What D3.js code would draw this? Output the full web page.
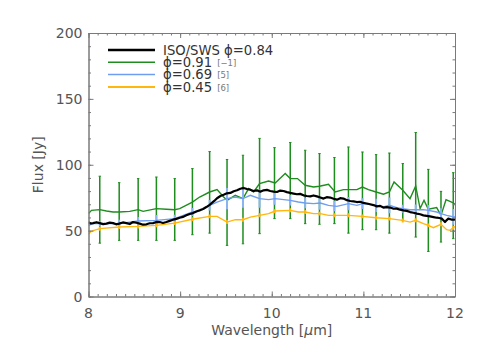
<!DOCTYPE html>
<html><head><meta charset="utf-8">
<script src="https://cdn.jsdelivr.net/npm/d3@7"></script>
<style>body{margin:0;background:#fff}svg{display:block}text{font-family:"DejaVu Sans",sans-serif}</style>
</head><body><svg id="c" width="481" height="354"></svg>
<script>
// ---- data ----
const xTicks=[8,9,10,11,12];
const yTicks=[0,50,100,150,200];
const legendLabels=["ISO/SWS \u03D5=0.84","\u03D5=0.91","\u03D5=0.69","\u03D5=0.45"];
const legendNotes=["","[\u22121]","[5]","[6]"];
// ISO/SWS phi=0.84
const isoLam=[8.0,8.025,8.051,8.087,8.123,8.16,8.196,8.232,8.269,8.302,8.335,8.375,8.414,8.45,8.487,8.523,8.559,8.595,8.632,8.668,8.705,8.741,8.777,8.813,8.85,8.886,8.923,8.959,8.995,9.03,9.068,9.105,9.141,9.177,9.213,9.25,9.286,9.322,9.359,9.38,9.403,9.44,9.475,9.51,9.548,9.585,9.621,9.657,9.693,9.73,9.766,9.8,9.839,9.875,9.911,9.948,9.984,10.02,10.057,10.093,10.129,10.165,10.202,10.238,10.275,10.31,10.347,10.383,10.42,10.456,10.493,10.53,10.565,10.6,10.638,10.675,10.711,10.747,10.783,10.82,10.856,10.893,10.929,10.965,11.001,11.037,11.074,11.11,11.147,11.183,11.218,11.255,11.292,11.33,11.365,11.4,11.437,11.473,11.51,11.547,11.583,11.62,11.655,11.69,11.728,11.765,11.8,11.83,11.855,11.873,11.891,11.91,11.927,11.96,11.989,12.0];
const isoFlux=[56.3,55.4,55.7,56.4,55.7,54.9,55.3,56.1,55.7,54.8,55.3,56.2,55.7,55.0,56.5,56.0,55.3,54.5,54.8,55.6,55.7,56.6,56.5,55.8,56.5,57.4,58.3,58.9,59.8,60.4,61.6,62.6,63.3,64.5,65.4,66.4,67.9,69.6,71.8,73.0,74.6,76.3,77.2,78.3,78.6,79.9,80.6,81.8,82.4,81.6,81.1,80.1,80.6,79.5,80.6,80.9,80.1,79.6,79.3,80.4,80.1,79.2,78.6,78.1,77.6,77.9,76.8,76.3,76.0,76.7,76.0,75.1,74.3,75.4,75.1,74.2,73.5,74.6,74.3,73.1,72.5,72.2,71.7,71.9,71.0,70.6,70.0,69.4,68.4,68.8,67.5,67.9,67.5,66.6,66.7,65.9,65.4,65.0,64.1,63.6,62.9,62.4,61.6,61.2,60.8,60.3,59.8,59.6,59.1,57.8,56.5,58.0,59.1,58.4,58.3,58.5];
// phi=0.91 (green)
const grLam=[8.0,8.033,8.123,8.196,8.269,8.335,8.45,8.542,8.596,8.741,8.85,8.941,8.995,9.134,9.213,9.322,9.403,9.475,9.512,9.602,9.686,9.747,9.802,9.867,9.965,10.038,10.147,10.202,10.281,10.365,10.456,10.521,10.619,10.692,10.783,10.929,10.99,11.055,11.139,11.219,11.284,11.335,11.43,11.509,11.571,11.619,11.662,11.709,11.8,11.847,11.902,11.981,12.0];
const grFlux=[63.0,65.4,65.9,64.9,64.1,64.1,64.6,65.9,64.6,66.7,66.2,65.9,66.7,71.7,75.5,79.3,81.1,75.5,73.0,76.8,74.3,81.9,79.3,85.7,87.7,86.2,93.3,89.5,89.5,84.4,83.1,83.7,85.2,79.3,81.1,81.1,83.1,81.1,79.3,77.6,79.3,86.9,80.6,74.3,83.9,66.7,73.0,66.2,67.5,61.6,73.5,71.0,70.0];
// phi=0.69 (blue)
const blLam=[8.0,8.05,8.196,8.335,8.542,8.741,8.941,9.134,9.213,9.322,9.403,9.512,9.602,9.686,9.766,9.867,9.965,10.038,10.202,10.29,10.365,10.456,10.53,10.619,10.711,10.837,10.929,10.99,11.135,11.218,11.284,11.365,11.426,11.51,11.571,11.655,11.709,11.8,11.847,11.909,11.989,12.0];
const blFlux=[54.0,55.3,55.3,55.3,57.3,57.8,59.1,64.1,64.9,69.2,71.7,74.3,75.5,74.3,76.8,74.3,73.5,74.3,73.0,71.7,71.0,70.5,71.0,69.2,68.4,70.5,69.2,70.5,69.2,67.9,69.2,67.5,66.7,65.9,65.9,65.9,65.4,64.1,62.9,61.6,60.3,60.5];
// phi=0.45 (yellow)
const ylLam=[8.0,8.033,8.123,8.335,8.542,8.741,8.941,9.134,9.322,9.403,9.512,9.602,9.686,9.766,9.867,9.965,10.038,10.202,10.29,10.365,10.456,10.53,10.619,10.74,10.837,10.99,11.135,11.284,11.426,11.51,11.571,11.655,11.709,11.764,11.847,11.909,11.945,11.989,12.0];
const ylFlux=[47.5,49.7,51.5,52.7,53.2,54.0,55.7,58.6,60.8,60.8,56.5,58.3,58.3,60.3,61.6,62.9,64.9,65.4,64.1,64.1,62.9,62.9,61.6,61.6,61.6,60.8,59.8,59.1,57.8,56.5,57.8,55.3,54.0,52.2,54.8,50.7,50.2,52.7,53.0];
// error bars
const errLam=[8.123,8.335,8.542,8.741,8.941,9.134,9.322,9.512,9.686,9.867,10.03,10.202,10.365,10.521,10.684,10.837,10.99,11.139,11.284,11.43,11.571,11.709,11.847,11.981];
const grLo=[40.5,42.6,42.6,42.6,42.6,46.9,48.1,38.8,40.0,47.7,59.1,59.1,55.3,54.8,55.3,48.1,50.7,50.7,48.1,57.8,45.1,34.2,41.3,43.9];
const grHi=[91.3,86.4,89.5,90.7,89.5,97.1,110.0,104.0,107.2,120.0,113.0,116.9,111.0,108.5,105.5,113.5,109.7,107.7,108.9,100.9,124.5,96.5,79.8,94.0];
const blErr=[2,3,3,4,3,3,4,8,7,7,4.5,4,4,5,4,5,4,5,6,3,4,4,4,6];
const ylErr=[1.5,1.5,1.5,1.5,1.5,1.5,1.5,1.5,1.5,1.5,1.5,1.5,1.5,1.5,1.5,1.5,1.5,1.5,1.5,1.5,1.5,1.5,1.5,1.5];

// ---- chart ----
const L=88.5,R=455,T=33,B=296.5;
const svg=d3.select("#c");
const x=d3.scaleLinear().domain([8,12]).range([L,R]);
const y=d3.scaleLinear().domain([0,200]).range([B,T]);
const axisCol="#7a7a7a", txtCol="#555";
const cGreen="#1e8c1e", cBlue="#6f9ef0", cBlueErr="#8cb4f4", cYel="#ffb70f";

svg.append("clipPath").attr("id","pc").append("rect").attr("x",L).attr("y",T).attr("width",R-L).attr("height",B-T);
const g=svg.append("g").attr("clip-path","url(#pc)");
const line=(lam,fl)=>d3.line().x((d,i)=>x(lam[i])).y(d=>y(d))(fl);
const interp=(lam,fl,v)=>{const i=Math.max(1,d3.bisectLeft(lam,v));const t=(v-lam[i-1])/(lam[i]-lam[i-1]);return fl[i-1]+t*(fl[i]-fl[i-1]);};

// green error bars
errLam.forEach((l,i)=>{
  g.append("line").attr("x1",x(l)).attr("x2",x(l)).attr("y1",y(grLo[i])).attr("y2",y(grHi[i])).attr("stroke",cGreen).attr("stroke-width",1.5);
  [grLo[i],grHi[i]].forEach(v=>g.append("line").attr("x1",x(l)-1.2).attr("x2",x(l)+1.2).attr("y1",y(v)).attr("y2",y(v)).attr("stroke",cGreen).attr("stroke-width",1));
});
g.append("path").attr("d",line(grLam,grFlux)).attr("fill","none").attr("stroke",cGreen).attr("stroke-width",1.4);
// blue
errLam.forEach((l,i)=>{const c=interp(blLam,blFlux,l);
  g.append("line").attr("x1",x(l)).attr("x2",x(l)).attr("y1",y(c-blErr[i])).attr("y2",y(c+blErr[i])).attr("stroke",cBlueErr).attr("stroke-width",2);});
g.append("path").attr("d",line(blLam,blFlux)).attr("fill","none").attr("stroke",cBlue).attr("stroke-width",1.4);
// yellow
errLam.forEach((l,i)=>{const c=interp(ylLam,ylFlux,l);
  g.append("line").attr("x1",x(l)).attr("x2",x(l)).attr("y1",y(c-ylErr[i])).attr("y2",y(c+ylErr[i])).attr("stroke",cYel).attr("stroke-width",2);});
g.append("path").attr("d",line(ylLam,ylFlux)).attr("fill","none").attr("stroke",cYel).attr("stroke-width",1.4);
// ISO
g.append("path").attr("d",line(isoLam,isoFlux)).attr("fill","none").attr("stroke","#000").attr("stroke-width",2.2).attr("stroke-linejoin","round");

// axes (box with inward ticks)
const minorX=d3.range(8,12.0001,0.1).map(v=>+v.toFixed(2));
const minorY=d3.range(0,200.001,10);
function styleAx(sel){sel.selectAll("path").attr("stroke",axisCol);sel.selectAll("line").attr("stroke",axisCol);sel.selectAll("text").remove();}
const ax=[
 [d3.axisBottom(x).tickValues(minorX).tickSize(-2.5).tickSizeOuter(0),`translate(0,${B})`],
 [d3.axisBottom(x).tickValues(xTicks).tickSize(-5).tickSizeOuter(0),`translate(0,${B})`],
 [d3.axisTop(x).tickValues(minorX).tickSize(-2.5).tickSizeOuter(0),`translate(0,${T})`],
 [d3.axisTop(x).tickValues(xTicks).tickSize(-5).tickSizeOuter(0),`translate(0,${T})`],
 [d3.axisLeft(y).tickValues(minorY).tickSize(-2.5).tickSizeOuter(0),`translate(${L},0)`],
 [d3.axisLeft(y).tickValues(yTicks).tickSize(-5).tickSizeOuter(0),`translate(${L},0)`],
 [d3.axisRight(y).tickValues(minorY).tickSize(-2.5).tickSizeOuter(0),`translate(${R},0)`],
 [d3.axisRight(y).tickValues(yTicks).tickSize(-5).tickSizeOuter(0),`translate(${R},0)`]
];
ax.forEach(([a,tr])=>{const s=svg.append("g").attr("transform",tr).call(a);styleAx(s);});

// tick labels
xTicks.forEach(v=>svg.append("text").attr("x",x(v)).attr("y",318).attr("text-anchor","middle").attr("font-size",14).attr("fill",txtCol).text(v));
yTicks.forEach(v=>svg.append("text").attr("x",82.5).attr("y",y(v)+5).attr("text-anchor","end").attr("font-size",14).attr("fill",txtCol).text(v));
// axis titles
const xt=svg.append("text").attr("x",x(10)).attr("y",335).attr("text-anchor","middle").attr("font-size",14).attr("fill",txtCol);
xt.append("tspan").text("Wavelength [");xt.append("tspan").attr("font-style","italic").text("\u03BC");xt.append("tspan").text("m]");
svg.append("text").attr("transform",`translate(43,${(T+B)/2}) rotate(-90)`).attr("text-anchor","middle").attr("font-size",14).attr("fill",txtCol).text("Flux [Jy]");

// legend
const legCols=["#000",cGreen,cBlue,cYel], legW=[2.6,1.6,1.6,2];
const legY=[50,62.3,74.5,87];
legendLabels.forEach((lab,i)=>{
  svg.append("line").attr("x1",108).attr("x2",155).attr("y1",legY[i]).attr("y2",legY[i]).attr("stroke",legCols[i]).attr("stroke-width",legW[i]);
  const t=svg.append("text").attr("x",163).attr("y",legY[i]+4.5).attr("font-size",13.2).attr("fill","#333").text(lab);
  if(legendNotes[i]){const w=t.node().getComputedTextLength();
    svg.append("text").attr("x",163+w+5).attr("y",legY[i]+3.5).attr("font-size",8.5).attr("fill","#777").text(legendNotes[i]);}
});
</script></body></html>
